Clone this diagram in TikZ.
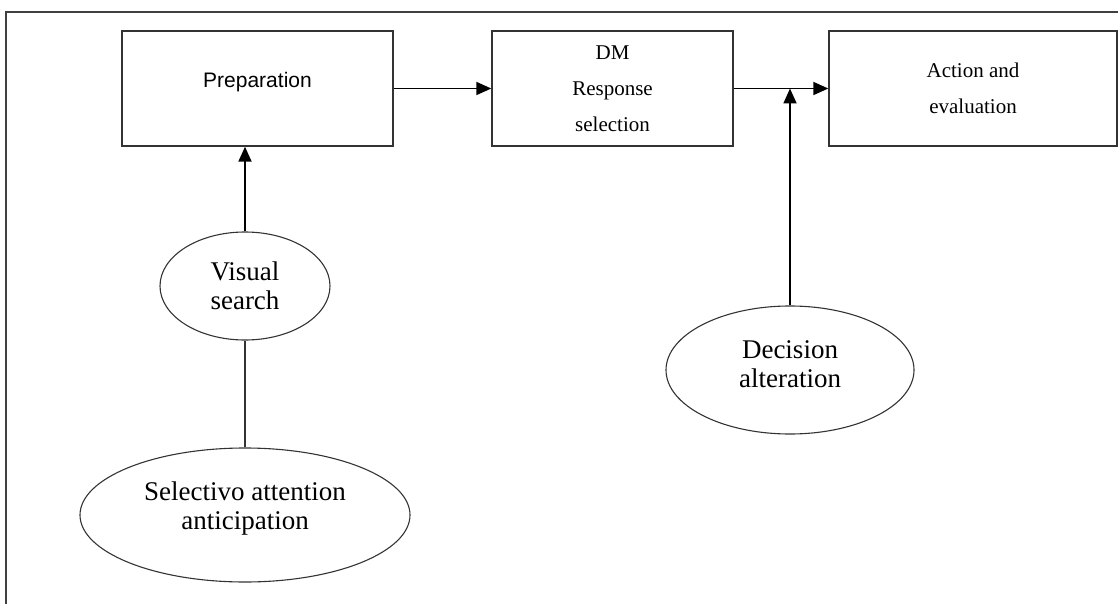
\documentclass[tikz,border=0pt]{standalone}
\usepackage{fontspec}
\setmainfont{Liberation Serif}
\newfontfamily\arialfont{Liberation Sans}
\usetikzlibrary{shapes,arrows.meta}
\tikzstyle{block} = [rectangle, draw=black!80, line width=1.4pt, minimum height=115pt,
    inner sep=0pt, align=center, font=\fontsize{21}{36}\selectfont]
\tikzstyle{oval} = [ellipse, draw=black!80, line width=1.1pt, inner sep=0pt,
    align=center, font=\fontsize{27}{28.5}\selectfont]
\tikzstyle{line} = [draw, line width=1.8pt, -{Triangle[length=15pt,width=13pt]}]
\tikzstyle{link} = [draw, line width=1.8pt, black!80]

\begin{document}
\begin{tikzpicture}[x=1pt, y=1pt]
    \useasboundingbox (0,0) rectangle (1118,-604);
    \clip (0,0) rectangle (1118,-604);
    \draw [black!75, line width=1.6pt] (6,-12) rectangle (1140,-640);
    % boxes
    \node [block, minimum width=271pt, text height=15pt, text depth=17pt,
        font=\arialfont\fontsize{21}{24}\selectfont] (prep) at (257.5,-88.5) {Preparation};
    \node [block, right of=prep, node distance=355pt, minimum width=241pt] (dm) {DM\\Response\\selection};
    \node [block, right of=dm, node distance=360.5pt, minimum width=288pt] (act) {Action and\\evaluation};
    % ovals
    \node [oval, minimum width=170pt, minimum height=108pt] (vis) at (245,-286) {Visual\\search};
    \node [oval, below of=vis, node distance=229pt, minimum width=330pt, minimum height=134pt] (sel)
        {Selectivo attention\\anticipation\\[-10pt]\mbox{}};
    \node [oval, minimum width=248pt, minimum height=128pt] (dec) at (790,-370)
        {Decision\\alteration\\[-17pt]\mbox{}};
    % edges
    \path [line] (prep) -- (dm);
    \path [line] (dm) -- (act);
    \path [line] (vis.north) -- (vis.north |- prep.south);
    \path [line] (dec.north) -- (dec.north |- dm.east);
    \path [link] (sel.north) -- (vis.south);
\end{tikzpicture}
\end{document}
